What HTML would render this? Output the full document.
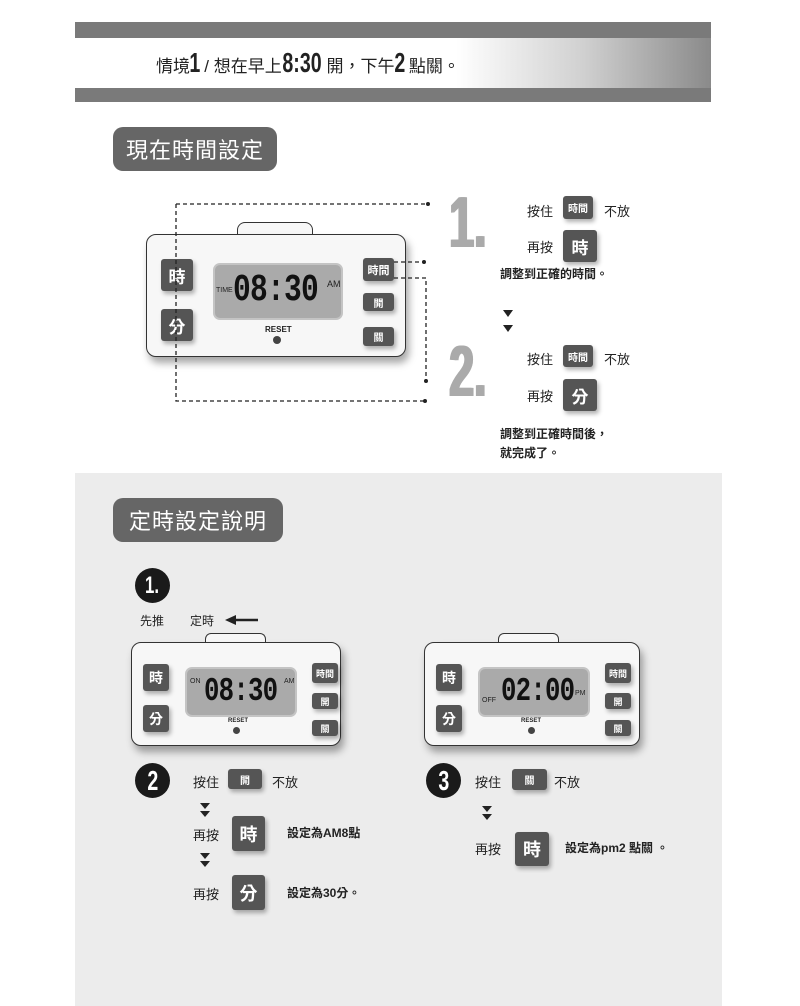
<!DOCTYPE html>
<html><head><meta charset="utf-8"><style>
*{margin:0;padding:0;box-sizing:border-box}
body{width:800px;height:1006px;position:relative;background:#fff;font-family:"Liberation Sans","Noto Sans CJK TC",sans-serif;color:#222;overflow:hidden}
.a{position:absolute}
.btn{position:absolute;background:#555;color:#fff;border-radius:3px;display:flex;align-items:center;justify-content:center;font-weight:bold;box-shadow:2px 3px 4px rgba(0,0,0,.3)}
.body{position:absolute;background:#f7f7f7;border:1.5px solid #333;border-radius:10px;box-shadow:3px 6px 8px rgba(0,0,0,.35)}
.lcd{position:absolute;background:#aaa;border-radius:7px;border:2px solid #c4c4c4}
.dig{position:absolute;font-family:"Liberation Mono",monospace;font-weight:bold;color:#111;letter-spacing:-1px;transform-origin:0 0;transform:scaleX(.78)}
.t{position:absolute;font-size:13px;white-space:nowrap}
.pill{position:absolute;background:#666;color:#fff;border-radius:10px;font-size:22px;display:flex;align-items:center;justify-content:center;letter-spacing:1px}
.circ{position:absolute;background:#1a1a1a;color:#fff;border-radius:50%;display:flex;align-items:center;justify-content:center;font-weight:bold;font-size:24px}
.tri{position:absolute;width:0;height:0;border-left:5px solid transparent;border-right:5px solid transparent;border-top:7px solid #222}
.big{position:absolute;font-size:72px;font-weight:bold;color:#aaa;line-height:70px;transform-origin:0 0;transform:scaleX(.62);text-shadow:2px 0 0 #aaa,4px 0 0 #aaa}
.cn{display:inline-block;transform:scaleX(.7);transform-origin:center;margin:0 -3px}
</style></head><body>
<!-- banner -->
<div class="a" style="left:75px;top:22px;width:636px;height:80px;background:#7a7a7a"></div>
<div class="a" style="left:75px;top:38px;width:636px;height:50px;background:linear-gradient(to right,#fff 0%,#fff 60%,#d0d0d0 80%,#8a8a8a 100%)"></div>
<div class="t" style="left:156px;top:48px;font-size:17px;line-height:30px">情境<b class="cn" style="font-size:28px">1</b> / 想在早上<b class="cn" style="font-size:28px;margin:0 -8px">8:30</b> 開，下午<b class="cn" style="font-size:28px">2</b> 點關。</div>

<div class="pill" style="left:113px;top:127px;width:164px;height:44px">現在時間設定</div>

<!-- clock 1 -->
<div class="a" style="left:237px;top:222px;width:76px;height:14px;border:1.5px solid #333;border-bottom:none;border-radius:8px 8px 0 0;background:#f7f7f7"></div>
<div class="body" style="left:146px;top:234px;width:260px;height:123px"></div>
<div class="btn" style="left:161px;top:259px;width:32px;height:32px;font-size:17px">時</div>
<div class="btn" style="left:161px;top:309px;width:32px;height:32px;font-size:17px">分</div>
<div class="lcd" style="left:213px;top:263px;width:130px;height:57px"></div>
<div class="t" style="left:216px;top:287px;font-size:7px">TIME</div>
<div class="dig" style="left:233px;top:269px;font-size:38px">08:30</div>
<div class="t" style="left:327px;top:279px;font-size:9px">AM</div>
<div class="t" style="left:265px;top:325px;font-size:8px;font-weight:bold">RESET</div>
<div class="a" style="left:273px;top:336px;width:8px;height:8px;border-radius:50%;background:#444"></div>
<div class="btn" style="left:363px;top:258px;width:31px;height:23px;font-size:11px">時間</div>
<div class="btn" style="left:363px;top:293px;width:31px;height:18px;font-size:10px">開</div>
<div class="btn" style="left:363px;top:327px;width:31px;height:19px;font-size:10px">關</div>
<svg class="a" style="left:0;top:0" width="800" height="470">
<g stroke="#222" stroke-width="1.3" stroke-dasharray="4,3" fill="none">
<path d="M176 204H428M176 204V401H425M394 262H424M394 278H426V381"/></g>
<g fill="#222"><circle cx="428" cy="204" r="2"/><circle cx="425" cy="401" r="2"/><circle cx="424" cy="262" r="2"/><circle cx="426" cy="381" r="2"/></g>
</svg>

<!-- right steps -->
<div class="big" style="left:448px;top:188px">1.</div>
<div class="t" style="left:527px;top:201px">按住</div>
<div class="btn" style="left:563px;top:196px;width:30px;height:23px;font-size:10px">時間</div>
<div class="t" style="left:604px;top:201px">不放</div>
<div class="t" style="left:527px;top:237px">再按</div>
<div class="btn" style="left:563px;top:230px;width:34px;height:32px;font-size:17px">時</div>
<div class="t" style="left:500px;top:265px;font-weight:bold;font-size:12px">調整到正確的時間。</div>
<div class="tri" style="left:503px;top:310px"></div>
<div class="tri" style="left:503px;top:325px"></div>
<div class="big" style="left:448px;top:337px">2.</div>
<div class="t" style="left:527px;top:349px">按住</div>
<div class="btn" style="left:563px;top:345px;width:30px;height:22px;font-size:10px">時間</div>
<div class="t" style="left:604px;top:349px">不放</div>
<div class="t" style="left:527px;top:386px">再按</div>
<div class="btn" style="left:563px;top:379px;width:34px;height:32px;font-size:17px">分</div>
<div class="t" style="left:500px;top:425px;font-weight:bold;font-size:12px">調整到正確時間後，</div>
<div class="t" style="left:500px;top:444px;font-weight:bold;font-size:12px">就完成了。</div>

<!-- gray section -->
<div class="a" style="left:75px;top:473px;width:647px;height:533px;background:#ececec"></div>
<div class="pill" style="left:113px;top:498px;width:170px;height:44px">定時設定說明</div>

<div class="circ" style="left:135px;top:568px;width:35px;height:35px"><span class="cn">1.</span></div>
<div class="t" style="left:140px;top:612px;font-size:12px">先推</div>
<div class="t" style="left:190px;top:612px;font-size:12px">定時</div>
<svg class="a" style="left:224px;top:613px" width="36" height="14"><path d="M10 7H34" stroke="#222" stroke-width="2.5"/><path d="M1 7L12 2V12Z" fill="#222"/></svg>

<!-- clock 2 -->
<div class="a" style="left:205px;top:633px;width:61px;height:11px;border:1.5px solid #333;border-bottom:none;border-radius:6px 6px 0 0;background:#f7f7f7"></div>
<div class="body" style="left:131px;top:642px;width:210px;height:104px"></div>
<div class="btn" style="left:143px;top:664px;width:26px;height:27px;font-size:14px">時</div>
<div class="btn" style="left:143px;top:705px;width:26px;height:27px;font-size:14px">分</div>
<div class="lcd" style="left:185px;top:667px;width:112px;height:50px"></div>
<div class="t" style="left:190px;top:678px;font-size:7px">ON</div>
<div class="dig" style="left:204px;top:673px;font-size:33px">08:30</div>
<div class="t" style="left:284px;top:678px;font-size:7px">AM</div>
<div class="t" style="left:228px;top:718px;font-size:6px;font-weight:bold">RESET</div>
<div class="a" style="left:233px;top:727px;width:7px;height:7px;border-radius:50%;background:#444"></div>
<div class="btn" style="left:312px;top:663px;width:26px;height:20px;font-size:9px">時間</div>
<div class="btn" style="left:312px;top:693px;width:26px;height:16px;font-size:9px">開</div>
<div class="btn" style="left:312px;top:720px;width:26px;height:16px;font-size:9px">關</div>

<!-- clock 3 -->
<div class="a" style="left:498px;top:633px;width:61px;height:11px;border:1.5px solid #333;border-bottom:none;border-radius:6px 6px 0 0;background:#f7f7f7"></div>
<div class="body" style="left:424px;top:642px;width:216px;height:104px"></div>
<div class="btn" style="left:436px;top:664px;width:26px;height:27px;font-size:14px">時</div>
<div class="btn" style="left:436px;top:705px;width:26px;height:27px;font-size:14px">分</div>
<div class="lcd" style="left:478px;top:667px;width:112px;height:50px"></div>
<div class="t" style="left:482px;top:697px;font-size:7px">OFF</div>
<div class="dig" style="left:501px;top:673px;font-size:33px">02:00</div>
<div class="t" style="left:575px;top:690px;font-size:7px">PM</div>
<div class="t" style="left:521px;top:718px;font-size:6px;font-weight:bold">RESET</div>
<div class="a" style="left:528px;top:727px;width:7px;height:7px;border-radius:50%;background:#444"></div>
<div class="btn" style="left:605px;top:663px;width:26px;height:20px;font-size:9px">時間</div>
<div class="btn" style="left:605px;top:693px;width:26px;height:16px;font-size:9px">開</div>
<div class="btn" style="left:605px;top:720px;width:26px;height:16px;font-size:9px">關</div>

<!-- step 2 -->
<div class="circ" style="left:135px;top:763px;width:35px;height:35px"><span class="cn" style="font-size:28px">2</span></div>
<div class="t" style="left:193px;top:772px">按住</div>
<div class="btn" style="left:228px;top:769px;width:34px;height:20px;font-size:10px">開</div>
<div class="t" style="left:272px;top:772px">不放</div>
<div class="tri" style="left:200px;top:803px;border-top-width:6px"></div>
<div class="tri" style="left:200px;top:811px;border-top-width:6px"></div>
<div class="t" style="left:193px;top:825px">再按</div>
<div class="btn" style="left:232px;top:816px;width:33px;height:35px;font-size:18px">時</div>
<div class="t" style="left:287px;top:824px;font-weight:bold;font-size:12px">設定為AM8點</div>
<div class="tri" style="left:200px;top:853px;border-top-width:6px"></div>
<div class="tri" style="left:200px;top:861px;border-top-width:6px"></div>
<div class="t" style="left:193px;top:884px">再按</div>
<div class="btn" style="left:232px;top:875px;width:33px;height:35px;font-size:18px">分</div>
<div class="t" style="left:287px;top:884px;font-weight:bold;font-size:12px">設定為30分。</div>

<!-- step 3 -->
<div class="circ" style="left:426px;top:763px;width:35px;height:35px"><span class="cn" style="font-size:28px">3</span></div>
<div class="t" style="left:475px;top:772px">按住</div>
<div class="btn" style="left:512px;top:769px;width:35px;height:21px;font-size:10px">關</div>
<div class="t" style="left:554px;top:772px">不放</div>
<div class="tri" style="left:482px;top:806px;border-top-width:6px"></div>
<div class="tri" style="left:482px;top:814px;border-top-width:6px"></div>
<div class="t" style="left:475px;top:839px">再按</div>
<div class="btn" style="left:515px;top:832px;width:34px;height:34px;font-size:18px">時</div>
<div class="t" style="left:565px;top:839px;font-weight:bold;font-size:12px">設定為pm2 點關 。</div>
</body></html>
